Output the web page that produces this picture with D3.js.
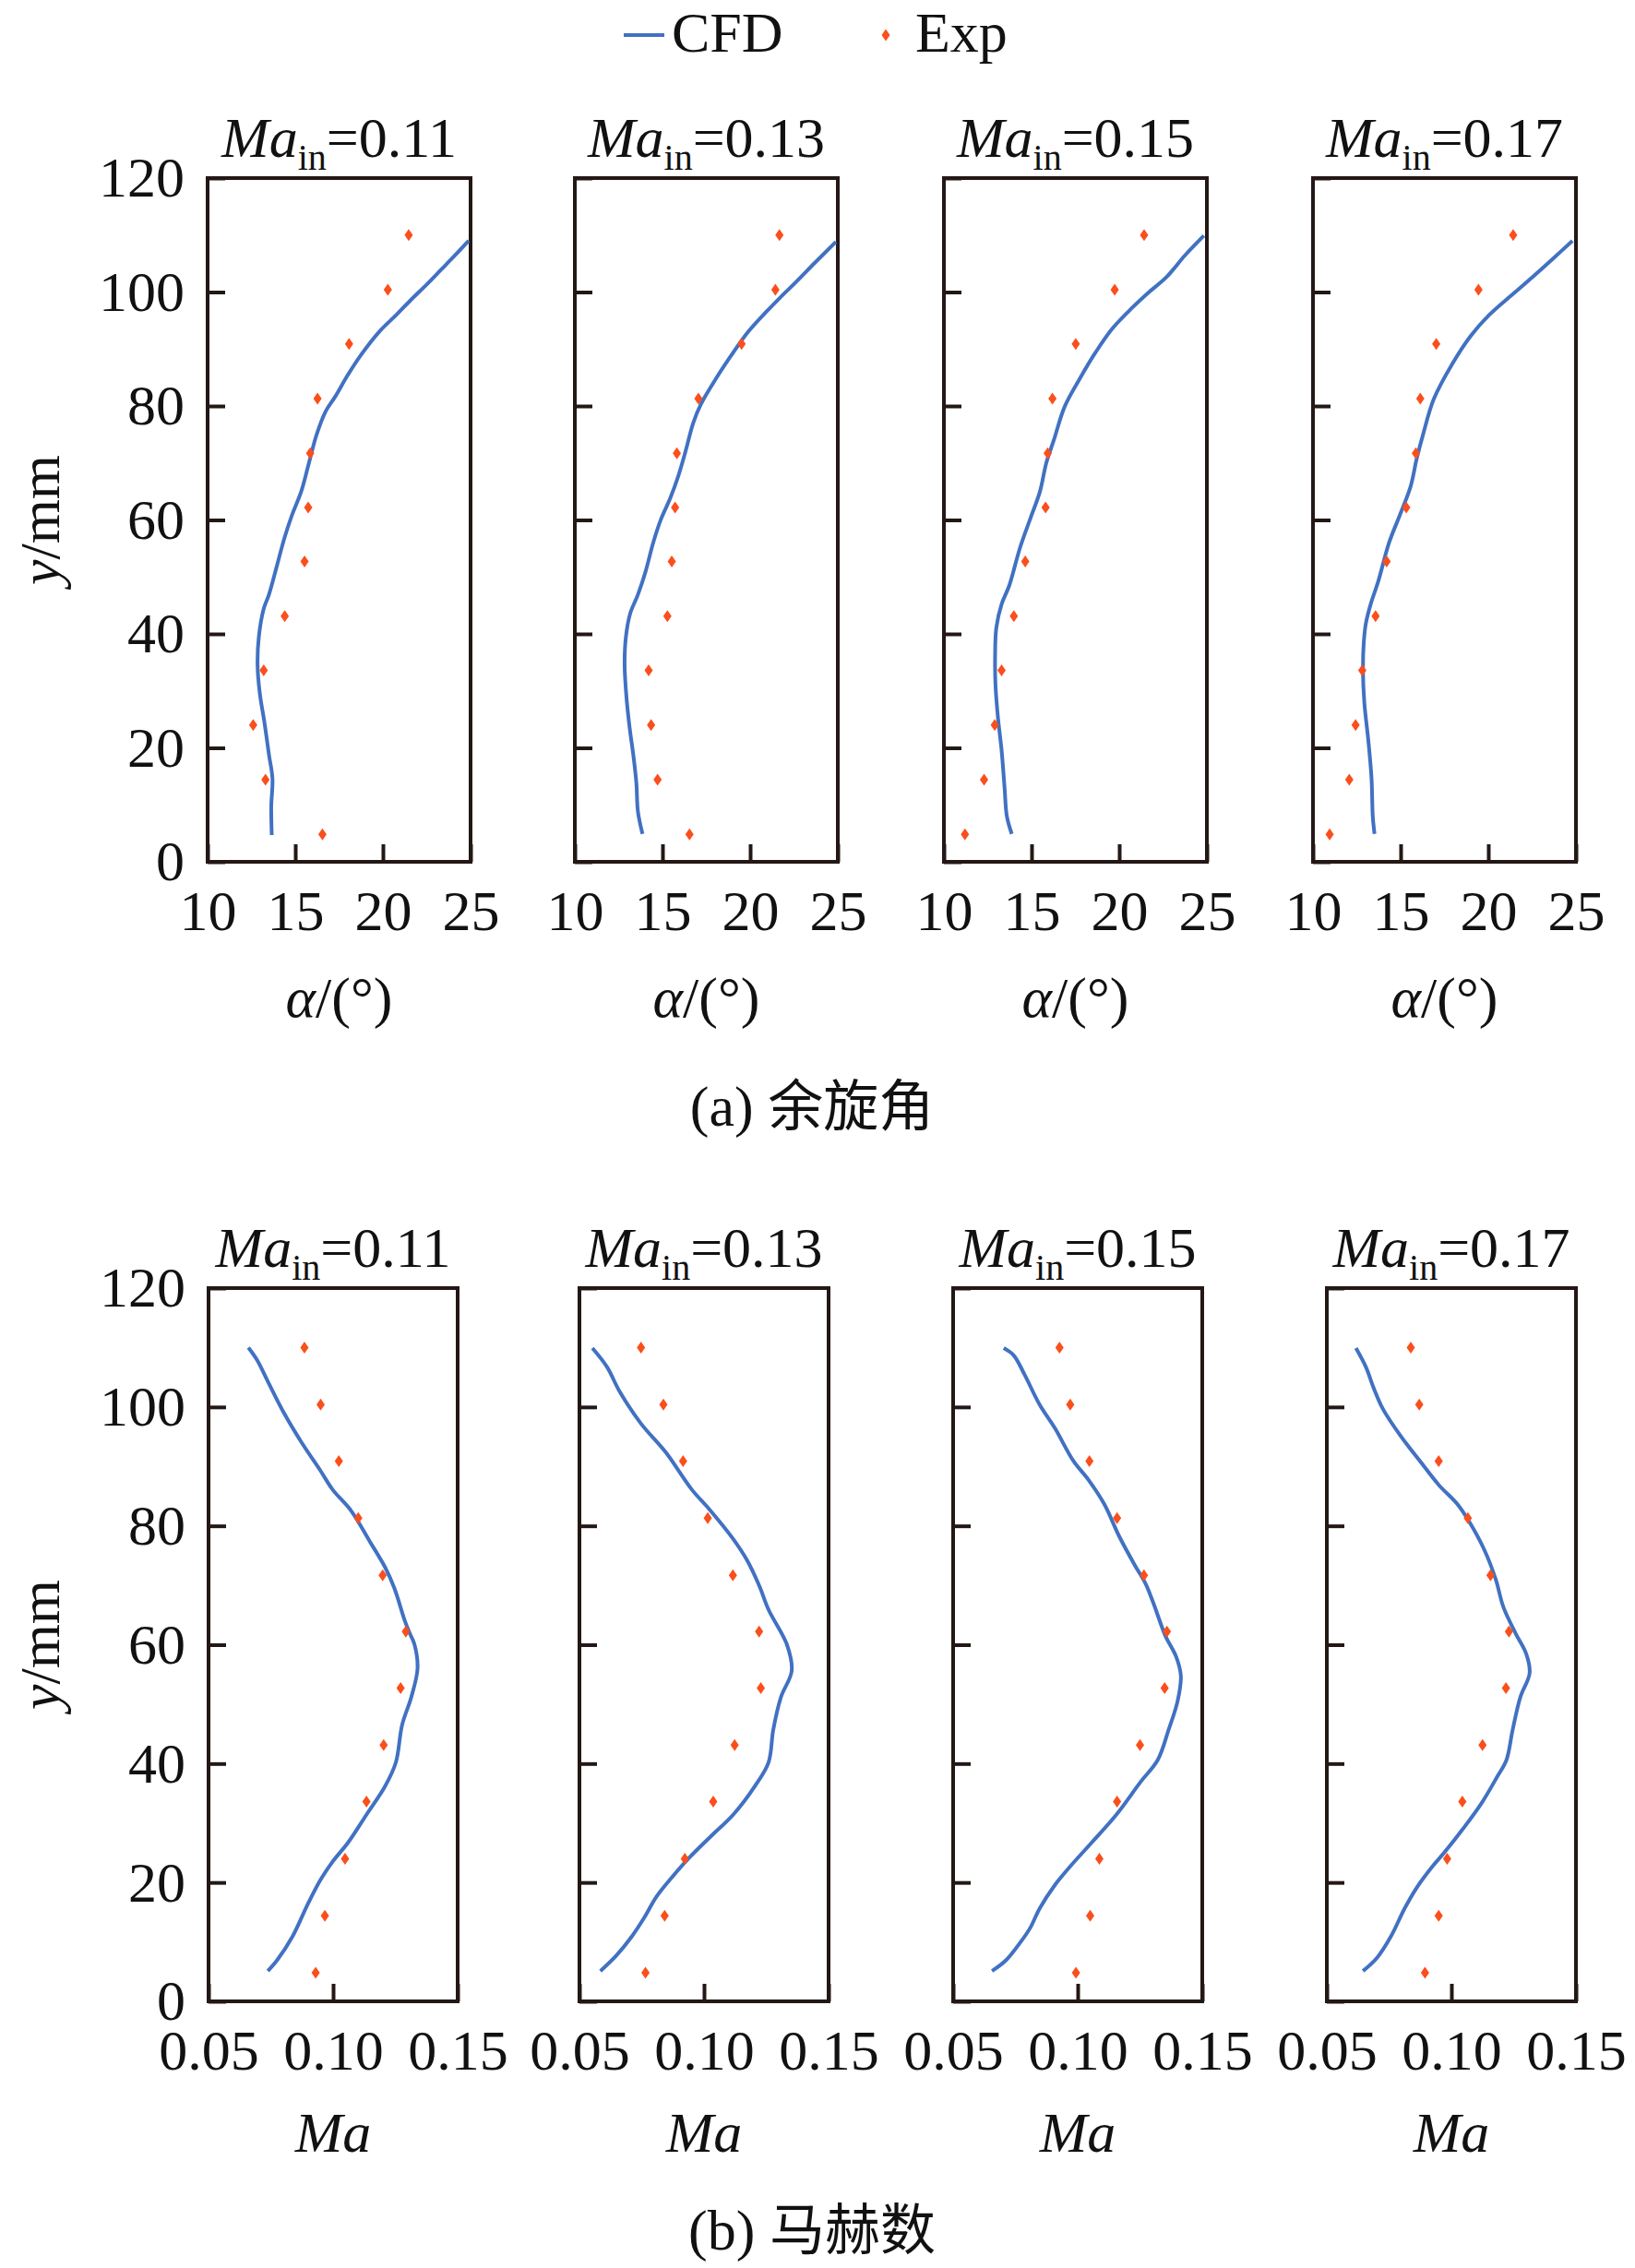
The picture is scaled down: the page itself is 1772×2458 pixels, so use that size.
<!DOCTYPE html>
<html>
<head>
<meta charset="utf-8">
<script src="https://cdn.jsdelivr.net/npm/d3@7"></script>
<style>
  body { margin: 0; background: #fff; }
  svg { display: block; }
  text { font-family: "Liberation Serif", "Times New Roman", serif; fill: #111; }
  .cjk { font-family: "Noto Sans CJK SC", sans-serif; }
</style>
</head>
<body>
<svg id="chart"></svg>
<script>
// ---------- data ----------
const maIn = ['0.11', '0.13', '0.15', '0.17'];
const yLevels = [4.8, 14.4, 24.0, 33.6, 43.1, 52.7, 62.2, 71.7, 81.3, 90.9, 100.4, 110.0];
const yTicks = [0, 20, 40, 60, 80, 100, 120];
const alphaTicks = [10, 15, 20, 25];
const machTicks = [0.05, 0.10, 0.15];

// experimental swirl angle (deg), one value per yLevels entry
const alphaExp011 = [16.55, 13.3, 12.6, 13.2, 14.40, 15.53, 15.74, 15.85, 16.27, 18.07, 20.28, 21.47];
const alphaExp013 = [16.54, 14.72, 14.35, 14.21, 15.28, 15.53, 15.72, 15.82, 17.05, 19.51, 21.44, 21.67];
const alphaExp015 = [11.20, 12.29, 12.90, 13.29, 13.99, 14.64, 15.80, 15.92, 16.19, 17.52, 19.74, 21.42];
const alphaExp017 = [10.95, 12.07, 12.43, 12.81, 13.57, 14.20, 15.32, 15.87, 16.12, 17.03, 19.44, 21.42];

// CFD swirl angle, [alpha, y]
const alphaCfd011 = [[13.66,4.7],[13.63,9.7],[13.70,14.6],[13.50,18.8],[13.24,24.5],[12.98,29.5],[12.85,34.5],[12.92,39.4],[13.20,44.4],[13.50,46.9],[13.94,51.8],[14.38,56.8],[14.82,60.9],[15.34,65.0],[15.78,70.0],[16.22,75.0],[16.74,79.1],[17.27,81.6],[17.97,85.3],[18.76,89.0],[19.81,93.1],[20.77,96.0],[21.56,98.5],[22.52,101.4],[23.31,103.9],[24.10,106.4],[24.89,109.0]];
const alphaCfd013 = [[13.86,4.9],[13.60,8.8],[13.51,13.8],[13.37,17.9],[13.12,23.7],[12.95,28.7],[12.84,34.5],[12.91,39.4],[13.16,43.6],[13.60,46.9],[14.04,51.0],[14.47,56.0],[14.91,60.1],[15.44,63.8],[15.88,67.5],[16.32,72.1],[16.75,77.0],[17.19,80.3],[18.07,84.9],[18.95,89.0],[19.91,93.1],[20.88,96.4],[21.67,98.9],[22.63,101.8],[23.68,105.1],[24.89,108.8]];
const alphaCfd015 = [[13.87,4.9],[13.59,8.0],[13.46,13.0],[13.29,19.6],[13.08,25.4],[12.94,31.2],[12.92,36.1],[12.99,41.1],[13.29,45.2],[13.73,48.5],[14.34,55.1],[14.96,60.5],[15.48,65.0],[15.84,70.0],[16.28,74.1],[16.89,79.9],[17.77,84.9],[18.65,89.4],[19.61,93.6],[20.76,97.3],[21.63,99.8],[22.69,102.6],[23.74,106.4],[24.83,109.9]];
const alphaCfd017 = [[13.51,4.9],[13.41,8.0],[13.34,14.6],[13.16,21.2],[12.93,27.9],[12.85,33.6],[12.90,38.6],[13.02,41.9],[13.29,45.2],[13.73,49.3],[14.34,56.0],[14.96,60.9],[15.57,65.9],[15.92,70.8],[16.28,75.0],[16.89,81.2],[17.95,87.4],[19.00,92.3],[20.06,96.0],[21.46,99.8],[22.51,102.6],[23.74,106.0],[24.80,109.0]];

// experimental Mach number
const machExp011 = [0.0930, 0.0967, 0.1048, 0.1134, 0.1203, 0.1271, 0.1292, 0.1199, 0.1101, 0.1023, 0.0950, 0.0885];
const machExp013 = [0.0765, 0.0842, 0.0923, 0.1037, 0.1123, 0.1228, 0.1221, 0.1116, 0.1015, 0.0916, 0.0837, 0.0747];
const machExp015 = [0.0993, 0.1050, 0.1087, 0.1158, 0.1250, 0.1349, 0.1358, 0.1266, 0.1158, 0.1047, 0.0970, 0.0927];
const machExp017 = [0.0894, 0.0949, 0.0983, 0.1044, 0.1125, 0.1219, 0.1231, 0.1157, 0.1066, 0.0949, 0.0871, 0.0837];

// CFD Mach number, [Ma, y]
const machCfd011 = [[0.0738,5.1],[0.0775,6.9],[0.0837,10.9],[0.0899,16.4],[0.0949,20.4],[0.0998,23.5],[0.1060,26.7],[0.1134,31.4],[0.1209,36.2],[0.1252,40.2],[0.1277,46.5],[0.1314,51.2],[0.1339,56.0],[0.1327,60.0],[0.1308,61.9],[0.1289,63.9],[0.1246,69.5],[0.1209,73.0],[0.1147,77.4],[0.1073,82.5],[0.0998,86.1],[0.0949,89.3],[0.0874,94.0],[0.0800,99.2],[0.0738,104.3],[0.0695,107.9],[0.0660,110.0]];
const machCfd013 = [[0.0584,5.1],[0.0648,7.7],[0.0710,10.9],[0.0759,14.0],[0.0809,17.6],[0.0870,20.8],[0.0944,24.3],[0.1031,27.9],[0.1117,31.4],[0.1204,36.2],[0.1259,40.2],[0.1278,45.7],[0.1309,51.2],[0.1352,55.6],[0.1333,60.0],[0.1259,65.9],[0.1222,69.9],[0.1173,74.2],[0.1117,77.8],[0.1019,82.9],[0.0951,86.1],[0.0846,92.4],[0.0747,97.2],[0.0660,102.7],[0.0611,106.7],[0.0552,109.9]];
const machCfd015 = [[0.0656,5.1],[0.0712,6.9],[0.0773,10.1],[0.0810,12.4],[0.0847,15.6],[0.0909,19.6],[0.0970,22.7],[0.1056,26.7],[0.1155,31.4],[0.1254,37.0],[0.1321,40.6],[0.1365,45.7],[0.1401,50.5],[0.1414,54.8],[0.1395,58.0],[0.1352,61.5],[0.1303,67.1],[0.1272,70.3],[0.1229,73.4],[0.1167,78.2],[0.1106,83.7],[0.1044,87.7],[0.0983,90.9],[0.0909,96.4],[0.0847,100.4],[0.0786,105.5],[0.0743,108.7],[0.0703,109.9]];
const machCfd017 = [[0.0645,5.1],[0.0701,7.3],[0.0757,10.9],[0.0812,15.6],[0.0862,19.2],[0.0924,22.7],[0.0973,25.1],[0.1048,29.1],[0.1122,33.4],[0.1184,37.8],[0.1221,40.6],[0.1246,45.7],[0.1277,51.2],[0.1314,55.2],[0.1301,58.4],[0.1258,61.9],[0.1209,66.3],[0.1178,71.0],[0.1134,75.8],[0.1073,80.6],[0.1023,83.7],[0.0949,86.9],[0.0874,90.9],[0.0800,94.9],[0.0726,99.6],[0.0688,103.2],[0.0657,106.7],[0.0617,109.9]];

// ---------- layout ----------
const W = 1772, H = 2458;
const fontSize = 62;
const lineColor = '#4171c2';
const expColor = '#fa4f1c';
const frameColor = '#231815';

const rows = [
  {
    top: 193, bottom: 934, width: 285, lefts: [225, 623, 1023, 1423],
    domain: [10, 25], ticks: alphaTicks, fmt: d3.format('d'),
    exp: [alphaExp011, alphaExp013, alphaExp015, alphaExp017],
    cfd: [alphaCfd011, alphaCfd013, alphaCfd015, alphaCfd017],
    xTitle: 'alpha', xTitleY: 1102,
    caption: '(a) ', captionCjk: '余旋角', captionY: 1220
  },
  {
    top: 1396, bottom: 2169, width: 270, lefts: [226, 628, 1033, 1438],
    domain: [0.05, 0.15], ticks: machTicks, fmt: d3.format('.2f'),
    exp: [machExp011, machExp013, machExp015, machExp017],
    cfd: [machCfd011, machCfd013, machCfd015, machCfd017],
    xTitle: 'Ma', xTitleY: 2332,
    caption: '(b) ', captionCjk: '马赫数', captionY: 2438
  }
];

const svg = d3.select('#chart').attr('width', W).attr('height', H);
const diamond = 'M0,-6.5L4.5,0L0,6.5L-4.5,0Z';

//----------------------------LEGEND----------------------------//
const legend = svg.append('g');
legend.append('line')
  .attr('x1', 676).attr('x2', 720).attr('y1', 38).attr('y2', 38)
  .attr('stroke', lineColor).attr('stroke-width', 4);
legend.append('text').attr('x', 728).attr('y', 56)
  .attr('font-size', fontSize).text('CFD');
legend.append('path')
  .attr('d', diamond)
  .attr('transform', 'translate(960,38)')
  .attr('fill', expColor);
legend.append('text').attr('x', 992).attr('y', 56)
  .attr('font-size', fontSize).text('Exp');

//----------------------------PANELS----------------------------//
rows.forEach(function(row) {
  const y = d3.scaleLinear().domain([0, 120]).range([row.bottom, row.top]);

  row.lefts.forEach(function(left, i) {
    const x = d3.scaleLinear().domain(row.domain).range([left, left + row.width]);
    const g = svg.append('g');
    const cx = left + row.width / 2;

    // panel title  Ma_in=0.xx
    const title = g.append('text')
      .attr('x', cx).attr('y', row.top - 23)
      .attr('text-anchor', 'middle')
      .attr('font-size', fontSize);
    title.append('tspan').attr('font-style', 'italic').text('Ma');
    title.append('tspan').attr('font-size', 40).attr('dy', 14).text('in');
    title.append('tspan').attr('dy', -14).text('=' + maIn[i]);

    // y axis (ticks inward)
    const yAxis = d3.axisLeft(y).tickValues(yTicks).tickSize(-19).tickPadding(25);
    const ya = g.append('g')
      .attr('transform', `translate(${left},0)`)
      .call(yAxis);
    ya.select('.domain').remove();
    ya.selectAll('line').attr('stroke', frameColor).attr('stroke-width', 4);
    ya.selectAll('text')
      .attr('font-size', fontSize)
      .attr('font-family', '"Liberation Serif", serif')
      .attr('fill', '#111');
    if (i > 0) ya.selectAll('text').remove();

    // x axis (ticks inward)
    const xAxis = d3.axisBottom(x).tickValues(row.ticks).tickSize(-19).tickPadding(30).tickFormat(row.fmt);
    const xa = g.append('g')
      .attr('transform', `translate(0,${row.bottom})`)
      .call(xAxis);
    xa.select('.domain').remove();
    xa.selectAll('line').attr('stroke', frameColor).attr('stroke-width', 4);
    xa.selectAll('text')
      .attr('font-size', fontSize)
      .attr('font-family', '"Liberation Serif", serif')
      .attr('fill', '#111');

    // frame
    g.append('rect')
      .attr('x', x(row.domain[0])).attr('y', y(120))
      .attr('width', x(row.domain[1]) - x(row.domain[0]))
      .attr('height', y(0) - y(120))
      .attr('fill', 'none')
      .attr('stroke', frameColor)
      .attr('stroke-width', 4);

    // CFD line
    const line = d3.line()
      .x(function(d) { return x(d[0]); })
      .y(function(d) { return y(d[1]); })
      .curve(d3.curveCatmullRom);
    g.append('path')
      .datum(row.cfd[i])
      .attr('d', line)
      .attr('fill', 'none')
      .attr('stroke', lineColor)
      .attr('stroke-width', 4)
      .attr('stroke-linejoin', 'round');

    // Exp points
    g.selectAll('.exp')
      .data(row.exp[i])
      .enter()
      .append('path')
      .attr('class', 'exp')
      .attr('d', diamond)
      .attr('fill', expColor)
      .attr('transform', function(d, k) { return `translate(${x(d)},${y(yLevels[k])})`; });

    // x axis title
    const xt = g.append('text')
      .attr('x', cx).attr('y', row.xTitleY)
      .attr('text-anchor', 'middle')
      .attr('font-size', fontSize);
    if (row.xTitle === 'alpha') {
      xt.append('tspan').attr('font-style', 'italic').text('α');
      xt.append('tspan').text('/(°)');
    } else {
      xt.append('tspan').attr('font-style', 'italic').text('Ma');
    }
  });

  // y axis title
  const yt = svg.append('text')
    .attr('transform', `translate(64,${(row.top + row.bottom) / 2}) rotate(-90)`)
    .attr('text-anchor', 'middle')
    .attr('font-size', fontSize);
  yt.append('tspan').attr('font-style', 'italic').text('y');
  yt.append('tspan').text('/mm');

  // sub caption
  const cap = svg.append('text')
    .attr('x', 880).attr('y', row.captionY)
    .attr('text-anchor', 'middle')
    .attr('font-size', fontSize);
  cap.append('tspan').text(row.caption);
  cap.append('tspan').attr('class', 'cjk').attr('font-size', 60).text(row.captionCjk);
});
</script>
</body>
</html>
